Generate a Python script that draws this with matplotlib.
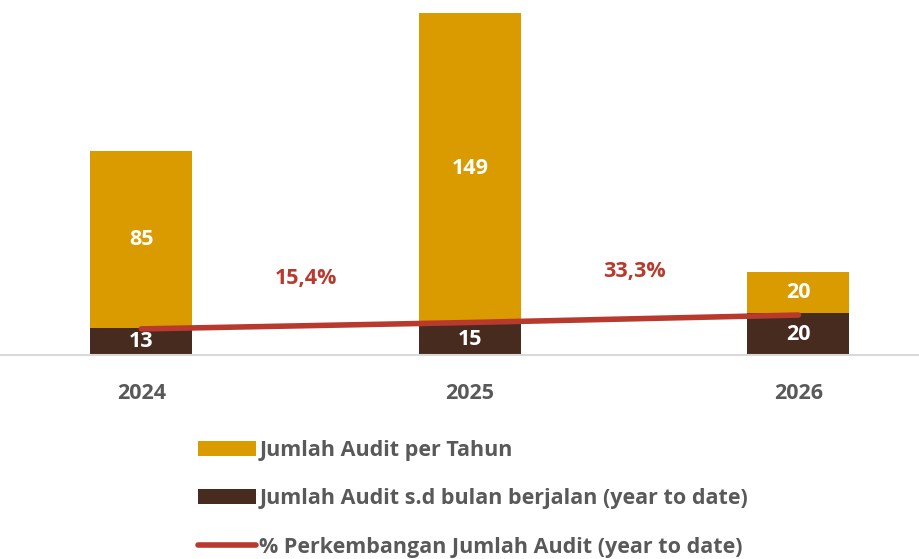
import matplotlib.pyplot as plt
from matplotlib.patches import Patch
from matplotlib.lines import Line2D

years = ['2024', '2025', '2026']
ytd = [13, 15, 20]
per_tahun = [85, 149, 20]
growth_pct = [0.0, 15.4, 33.3]
growth_labels = ['15,4%', '33,3%']

gold = '#D99B00'
brown = '#472B1F'
red = '#B83A2E'
grey = '#595959'

plt.rcParams['font.family'] = ['Open Sans', 'DejaVu Sans']
plt.rcParams['font.weight'] = 'bold'
fs = 15.5

fig = plt.figure(figsize=(9.2, 5.59), dpi=100)
ax = fig.add_axes([0.0, 0.365, 1.0, 0.615])

x = range(len(years))
w = 0.31
ax.bar(x, ytd, width=w, color=brown, zorder=2)
ax.bar(x, per_tahun, width=w, bottom=ytd, color=gold, zorder=2)

for i in x:
    ax.text(i, ytd[i] / 2, str(ytd[i]), ha='center', va='center',
            color='white', fontsize=fs, fontweight='bold', zorder=5)
    ax.text(i, ytd[i] + per_tahun[i] / 2, str(per_tahun[i]), ha='center',
            va='center', color='white', fontsize=fs, fontweight='bold', zorder=5)

ax.set_xlim(-0.43, 2.37)
ax.set_ylim(0, 165)
ax.set_xticks(list(x))
ax.set_xticklabels(years, fontsize=fs, fontweight='bold', color=grey)
ax.tick_params(axis='x', length=0, pad=20)
ax.set_yticks([])
for s in ['top', 'right', 'left']:
    ax.spines[s].set_visible(False)
ax.spines['bottom'].set_color('#D9D9D9')
ax.spines['bottom'].set_linewidth(1.5)

# secondary axis for growth line
ax2 = ax.twinx()
ax2.set_ylim(-62.5, 762.5)
ax2.plot(list(x), growth_pct, color=red, linewidth=4, solid_capstyle='round', zorder=4)
for i, lab in enumerate(growth_labels):
    xm = i + 0.5
    ym = (growth_pct[i] + growth_pct[i + 1]) / 2
    ax2.annotate(lab, (xm, ym), xytext=(0, 34), textcoords='offset points',
                 ha='center', va='center', color=red, fontsize=fs, fontweight='bold')
ax2.axis('off')

handles = [
    Patch(facecolor=gold, edgecolor='none'),
    Patch(facecolor=brown, edgecolor='none'),
    Line2D([0], [0], color=red, linewidth=4, solid_capstyle='round'),
]
labels = ['Jumlah Audit per Tahun',
          'Jumlah Audit s.d bulan berjalan (year to date)',
          '% Perkembangan Jumlah Audit (year to date)']
leg = fig.legend(handles, labels, loc='upper left', bbox_to_anchor=(0.206, 0.229),
                 frameon=False, fontsize=fs, handlelength=2.7, handleheight=0.7,
                 handletextpad=0.15, labelspacing=1.28, borderaxespad=0)
for t in leg.get_texts():
    t.set_color(grey)
    t.set_fontweight('bold')

fig.savefig('out.png', dpi=100)
